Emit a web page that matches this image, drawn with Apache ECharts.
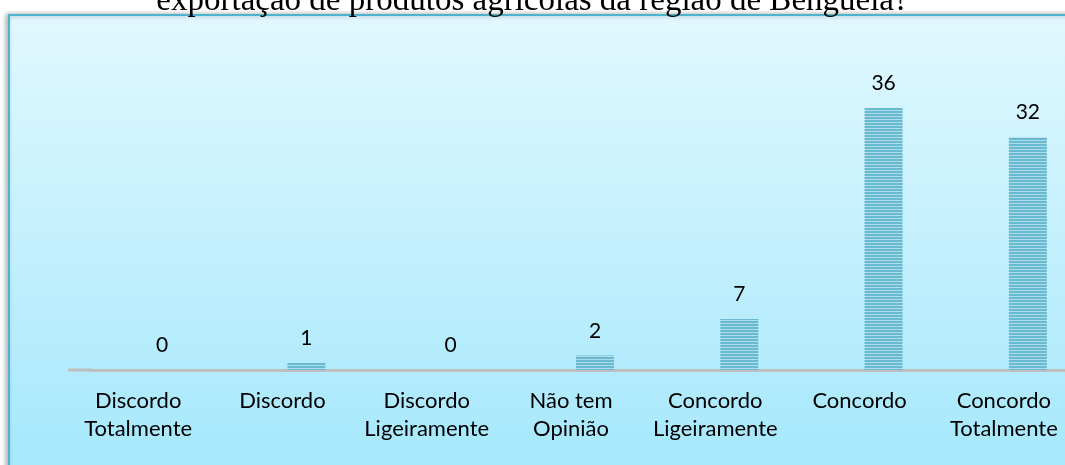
<!DOCTYPE html>
<html>
<head>
<meta charset="utf-8">
<script src="https://cdn.jsdelivr.net/npm/echarts@6/dist/echarts.min.js"></script>
<style>
  html, body { margin: 0; padding: 0; background: #fff; }
  #show_picture { width: 1065px; height: 465px; }
</style>
</head>
<body>
<div id="show_picture"></div>
<script>
// dados
const categories = ['Discordo\nTotalmente', 'Discordo', 'Discordo\nLigeiramente', 'Não tem\nOpinião',
    'Concordo\nLigeiramente', 'Concordo', 'Concordo\nTotalmente'];
const values = [0, 1, 0, 2, 7, 36, 32];
const titleText = 'exportação de produtos agrícolas da região de Benguela?';

// padrão listrado das barras
let stripes = document.createElement('canvas');
stripes.width = 4;
stripes.height = 3;
let ctx = stripes.getContext('2d');
ctx.fillStyle = '#aedce8';
ctx.fillRect(0, 0, 4, 3);
ctx.fillStyle = '#68bad0';
ctx.fillRect(0, 0, 4, 2);

let myChart = echarts.init(document.getElementById('show_picture'));

let frame = {
    type: 'rect',
    z: -10,
    silent: true,
    shape: {x: 9, y: 15, width: 1080, height: 480},
    style: {
        fill: new echarts.graphic.LinearGradient(0, 0, 0, 1, [
            {offset: 0, color: '#e1f8fe'},
            {offset: 1, color: '#a2e7fc'}
        ]),
        stroke: '#4cb4cf',
        lineWidth: 2,
        shadowBlur: 5,
        shadowOffsetX: -2,
        shadowColor: 'rgba(0,0,0,0.3)'
    }
};

let option = {
    animation: false,
    title: {
        text: titleText,
        left: 'center',
        top: -20,
        textStyle: {
            fontFamily: 'Liberation Serif',
            fontWeight: 'normal',
            fontSize: 33,
            color: '#000'
        }
    },
    graphic: [frame],
    grid: {
        left: 90,
        top: 79,
        width: 1010,
        bottom: 95,
        outerBoundsMode: 'none',
        containLabel: false
    },
    xAxis: {
        type: 'category',
        data: categories,
        axisLine: {lineStyle: {color: '#bfbfbf', width: 3}},
        axisTick: {show: false},
        axisLabel: {
            interval: 0,
            margin: 17,
            padding: [0, 48, 0, 0],
            fontFamily: 'Lato',
            fontSize: 22,
            lineHeight: 28,
            color: '#000'
        }
    },
    yAxis: {
        type: 'value',
        min: 0,
        max: 40,
        show: false,
        splitLine: {show: false}
    },
    series: [
        {
            type: 'bar',
            data: values,
            barWidth: 38,
            itemStyle: {
                color: {image: stripes, repeat: 'repeat'}
            },
            label: {
                show: true,
                position: 'top',
                distance: 14,
                fontFamily: 'Lato',
                fontSize: 21,
                color: '#000'
            }
        }
    ]
};

myChart.setOption(option);

// prolonga a linha do eixo até à esquerda, como no original
let y0 = myChart.convertToPixel({yAxisIndex: 0}, 0);
myChart.setOption({
    graphic: [
        frame,
        {
            type: 'line',
            silent: true,
            shape: {x1: 68, y1: y0, x2: 92, y2: y0},
            style: {stroke: '#bfbfbf', lineWidth: 3}
        }
    ]
});
</script>
</body>
</html>
